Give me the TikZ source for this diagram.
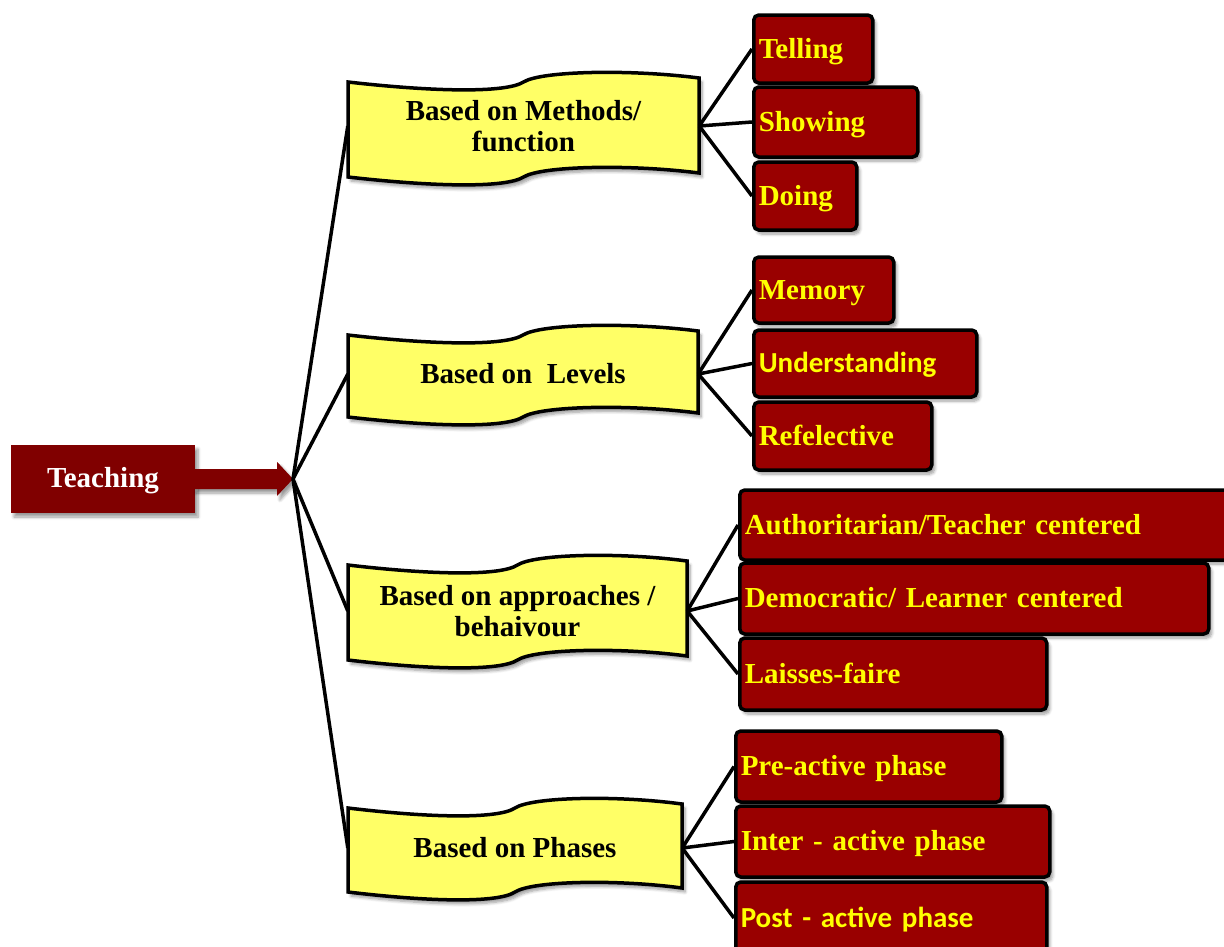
\documentclass[tikz,border=0pt]{standalone}
\usepackage{fontspec}
\setmainfont{Liberation Serif}
\newfontfamily\carlito{Carlito}
\usetikzlibrary{shadows.blur}

\definecolor{teachred}{HTML}{800000}
\definecolor{leafred}{HTML}{990000}
\definecolor{ribyellow}{HTML}{FFFF66}
\definecolor{leaftext}{HTML}{FFFF00}

\tikzset{
  softshadow/.style={blur shadow={shadow xshift=3pt,shadow yshift=-4pt,shadow blur steps=6,shadow blur radius=3pt,shadow opacity=40}},
  bigfont/.style={font=\bfseries\fontsize{29}{31}\selectfont},
  leaf/.style={bigfont,draw=black,line width=3.5pt,rounded corners=5pt,fill=leafred,text=leaftext,anchor=west,align=left,inner xsep=5pt,inner ysep=0pt,text height=21pt,text depth=3pt,softshadow},
  rib/.style={draw=black,line width=3.5pt,fill=ribyellow,softshadow},
  ribtext/.style={bigfont,align=center,inner sep=0pt,minimum height=60pt},
  link/.style={line width=3.5pt},
}

% wavy ribbon: #1 top left corner, #2 width, #3 height
\newcommand{\ribbon}[3]{%
  \begin{scope}[shift={#1}]
    \draw[rib] (0,0) .. controls ({.25*#2},10) and ({.45*#2},11) .. ({.5*#2},0)
      .. controls ({.55*#2},-11) and ({.8*#2},-13) .. (#2,-4)
      -- (#2,{#3-4})
      .. controls ({.8*#2},{#3-13}) and ({.55*#2},{#3-11}) .. ({.5*#2},{#3})
      .. controls ({.45*#2},{#3+11}) and ({.25*#2},{#3+10}) .. (0,#3) -- cycle;
  \end{scope}}

\begin{document}
\begin{tikzpicture}[x=1pt,y=-1pt]
\useasboundingbox (0,0) rectangle (1224,946);
\clip (0,0) rectangle (1224,946);

% Ribbons
\ribbon{(348,82)}{351}{95}
\ribbon{(348,335)}{350}{82}
\ribbon{(348,565)}{339}{95}
\ribbon{(348,808)}{334}{84}

% Text Node
\node[ribtext,minimum width=351pt] (meth) at (523.5,126) {Based on Methods/\\function};
% Text Node
\node[ribtext,minimum width=350pt] (lev) at (523,374) {Based on\ \ Levels};
% Text Node
\node[ribtext,minimum width=339pt] (appr) at (517.5,611) {Based on approaches /\\behaivour};
% Text Node
\node[ribtext,minimum width=334pt] (phas) at (515,848) {Based on Phases};

% Teaching box and arrow
\node[bigfont,fill=teachred,text=white,minimum width=184pt,minimum height=68pt,inner sep=0pt,text height=21pt,text depth=4pt,softshadow] (teach) at (103,479) {Teaching};
\coordinate (hub) at (293,479);
\fill[teachred,softshadow] (teach.east) ++(-2,-10) -- ++(84,0) -- ++(0,-7) -- (hub)
  -- ++(-16,17) -- ++(0,-7) -- ++(-84,0) -- cycle;

% Text Node
\node[leaf,text width=109pt,minimum height=68pt] (tell) at (752,49) {Telling};
\node[leaf,text width=154pt,minimum height=70pt] (show) at (752,122) {Showing};
\node[leaf,text width=93pt,minimum height=68pt] (doing) at (752,196) {Doing};
% Text Node
\node[leaf,text width=130pt,minimum height=66pt] (mem) at (752,290) {Memory};
\node[leaf,text width=213pt,minimum height=67pt] (und) at (752,363.5) {\carlito Understanding};
\node[leaf,text width=168pt,minimum height=68pt] (refl) at (752,436) {Refelective};
% Text Node
\node[leaf,text width=490pt,minimum height=70pt] (auth) at (738,525) {Authoritarian/Teacher centered};
\node[leaf,text width=459pt,minimum height=71pt] (demo) at (738,598.5) {Democratic/ Learner centered};
\node[leaf,text width=297pt,minimum height=72pt] (lais) at (738,674) {Laisses-faire};
% Text Node
\node[leaf,text width=256pt,minimum height=71pt] (pre) at (734,766.5) {Pre-active phase};
\node[leaf,text width=304pt,minimum height=71pt] (inter) at (734,841.5) {Inter - active phase};
\node[leaf,text width=301pt,minimum height=72pt] (post) at (734,918) {\carlito Post - active phase};

% Connection
\draw[link] (hub) -- (meth.west);
\draw[link] (hub) -- (lev.west);
\draw[link] (hub) -- (appr.west);
\draw[link] (hub) -- (phas.west);

% Connection
\foreach \a in {tell,show,doing} \draw[link] (meth.east) -- (\a.west);
\foreach \a in {mem,und,refl} \draw[link] (lev.east) -- (\a.west);
\foreach \a in {auth,demo,lais} \draw[link] (appr.east) -- (\a.west);
\foreach \a in {pre,inter,post} \draw[link] (phas.east) -- (\a.west);

\end{tikzpicture}
\end{document}
